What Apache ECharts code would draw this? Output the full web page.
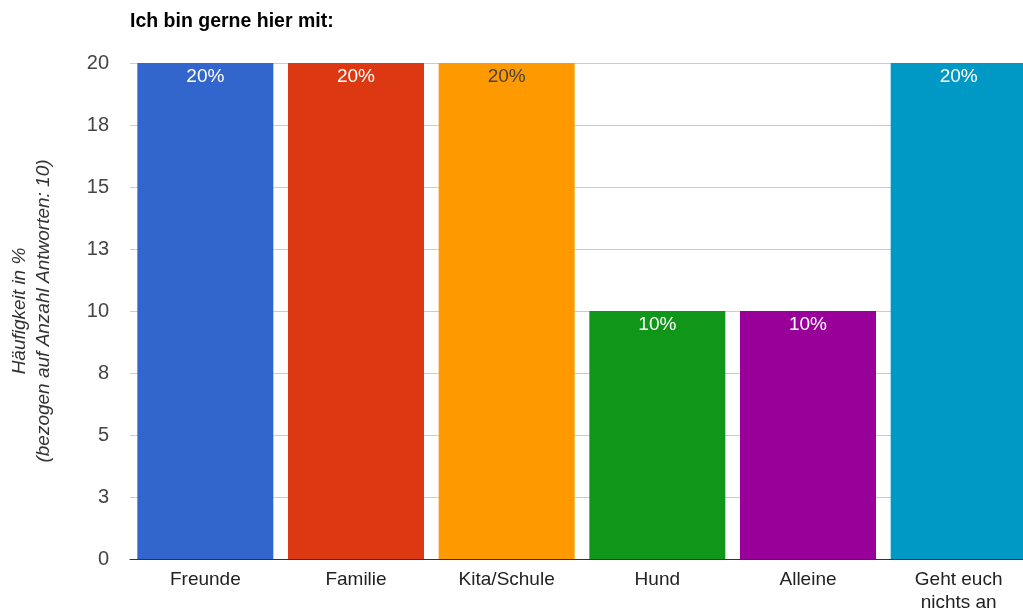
<!DOCTYPE html>
<html>
<head>
<meta charset="utf-8">
<script src="https://cdn.jsdelivr.net/npm/echarts@6/dist/echarts.min.js"></script>
<style>
  html, body { margin: 0; padding: 0; background: #fff; overflow: hidden; }
  /* canvas is slightly wider than the window so the last bar is cut at the edge */
  #chart { width: 1034px; height: 614px; }
</style>
</head>
<body>
<div id="chart"></div>
<script>
// Answers to "Ich bin gerne hier mit:" as share of responses (%)
const categories = ['Freunde', 'Familie', 'Kita/Schule', 'Hund', 'Alleine', 'Geht euch\nnichts an'];
const values = [20, 20, 20, 10, 10, 20];
const barColors = ['#3366cc', '#dc3912', '#ff9900', '#109618', '#990099', '#0099c6'];
const labelColors = ['#ffffff', '#ffffff', '#444444', '#ffffff', '#ffffff', '#ffffff'];

const font = '"Liberation Sans", Arial, sans-serif';
const chart = echarts.init(document.getElementById('chart'));

chart.setOption({
  animation: false,
  title: {
    text: 'Ich bin gerne hier mit:',
    left: 125,
    top: 7,
    textStyle: { fontFamily: font, fontSize: 19.5, fontWeight: 'bold', color: '#000' }
  },
  grid: { left: 127.5, right: 0, top: 63, bottom: 51 },
  xAxis: {
    type: 'category',
    data: categories,
    axisLine: { lineStyle: { color: '#333', width: 1 } },
    axisTick: { show: false },
    axisLabel: { fontFamily: font, fontSize: 19, color: '#222', margin: 9, lineHeight: 23 }
  },
  yAxis: {
    type: 'value',
    min: 0,
    max: 20,
    interval: 2.5,
    name: 'Häufigkeit in %\n(bezogen auf Anzahl Antworten: 10)',
    nameLocation: 'middle',
    nameGap: 74,
    nameTextStyle: { fontFamily: font, fontSize: 19, fontStyle: 'italic', color: '#333', lineHeight: 24 },
    axisLine: { show: false },
    axisTick: { show: false },
    splitLine: { lineStyle: { color: '#cccccc', width: 1 } },
    axisLabel: {
      fontFamily: font, fontSize: 20, color: '#444', margin: 21,
      formatter: v => String(Math.round(v))
    }
  },
  series: [{
    type: 'bar',
    barWidth: 136,
    data: values.map((v, i) => ({
      value: v,
      itemStyle: { color: barColors[i] },
      label: { color: labelColors[i] }
    })),
    label: {
      show: true,
      position: 'insideTop',
      distance: 4,
      fontFamily: font,
      fontSize: 19,
      formatter: p => p.value + '%'
    }
  }]
});
</script>
</body>
</html>
